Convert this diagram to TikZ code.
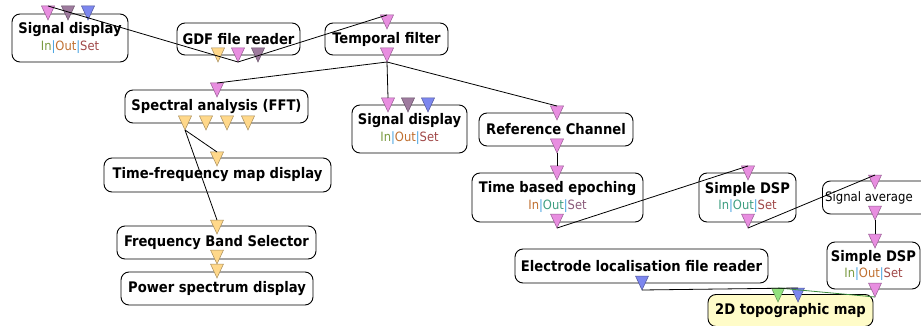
\documentclass[tikz,border=0pt]{standalone}
\usepackage{fontspec}
\setmainfont{DejaVu Sans Condensed}
\usetikzlibrary{calc}
\definecolor{pk}{HTML}{E88EE0}
\definecolor{mv}{HTML}{9E7B9E}
\definecolor{bl}{HTML}{7C86EE}
\definecolor{yl}{HTML}{FFD88A}
\definecolor{gr}{HTML}{92E27E}
\definecolor{topofill}{HTML}{FFFCC8}
\definecolor{cteal}{HTML}{3E9E80}
\definecolor{colive}{HTML}{7A9A40}
\definecolor{corange}{HTML}{C07030}
\definecolor{cbrown}{HTML}{A04848}
\definecolor{cpurple}{HTML}{8A5A7A}
\definecolor{csep}{HTML}{40A0E0}
\definecolor{wiregreen}{HTML}{3C8C3C}
\newcommand\ioA{\textcolor{colive}{In}\textcolor{csep}{|}\textcolor{corange}{Out}\textcolor{csep}{|}\textcolor{cbrown}{Set}}
\newcommand\ioB{\textcolor{corange}{In}\textcolor{csep}{|}\textcolor{cteal}{Out}\textcolor{csep}{|}\textcolor{cpurple}{Set}}
\newcommand\ioC{\textcolor{cteal}{In}\textcolor{csep}{|}\textcolor{cteal}{Out}\textcolor{csep}{|}\textcolor{cbrown}{Set}}
% name, x, border y, colour
\newcommand\porttri[4]{%
  \coordinate (#1) at (#2,#3);
  \coordinate (#1-top) at (#2,#3-7);
  \coordinate (#1-tip) at (#2,#3+7);
  \filldraw[fill=#4,draw=#4!65!black,line width=0.5pt] (#2-6.5,#3-7) -- (#2+6.5,#3-7) -- (#2,#3+7) -- cycle;}
\begin{document}
\begin{tikzpicture}[x=1pt,y=-1pt,
  box/.style={draw=black,line width=0.9pt,rounded corners=8pt,fill=white,inner sep=0pt},
  ttl/.style={font=\bfseries\fontsize{14.6}{16}\selectfont,inner sep=0pt},
  sub/.style={font=\fontsize{12.8}{14}\selectfont,inner sep=0pt},
  wire/.style={draw=black,line width=0.8pt}]
\useasboundingbox (0,0) rectangle (921,326);
\clip (0,0) rectangle (921,326);
\fill[white] (0,0) rectangle (921,326);

% boxes
\node[box,minimum width=116,minimum height=48] (sd1) at (70,38) {};
\node[ttl] (sd1t) at (70,30) {Signal display};
\node[sub] (sd1s) at (70,47) {\ioA};

\node[box,minimum width=123,minimum height=32,ttl] (gdf) at (238.5,39) {GDF file reader};
\node[box,minimum width=123,minimum height=32,ttl] (tf) at (386.5,39) {Temporal filter};
\node[box,minimum width=183,minimum height=33,ttl] (fft) at (216.5,106.5) {Spectral analysis (FFT)};

\node[box,minimum width=115,minimum height=48] (sd2) at (409.5,129) {};
\node[ttl] (sd2t) at (409.5,121) {Signal display};
\node[sub] (sd2s) at (409.5,138) {\ioA};

\node[box,minimum width=154,minimum height=33,ttl] (ref) at (556,129.5) {Reference Channel};

\node[box,minimum width=171,minimum height=49] (tbe) at (557.5,197.5) {};
\node[ttl] (tbet) at (557.5,189) {Time based epoching};
\node[sub] (tbes) at (557.5,206) {\ioB};

\node[box,minimum width=97,minimum height=49] (dsp1) at (747.5,197.5) {};
\node[ttl] (dsp1t) at (747.5,189) {Simple DSP};
\node[sub] (dsp1s) at (747.5,206) {\ioC};

\node[box,minimum width=116,minimum height=33,anchor=west] (avg) at (822,197.5) {};
\node[font=\fontsize{13}{15}\selectfont,inner sep=0pt,anchor=west] (avgt) at (825,197.5) {Signal average};

\node[box,minimum width=93,minimum height=47] (dsp2) at (873.5,265.5) {};
\node[ttl] (dsp2t) at (873.5,257) {Simple DSP};
\node[sub] (dsp2s) at (873.5,274) {\ioA};

\node[box,minimum width=253,minimum height=34,ttl] (elec) at (641.5,266) {Electrode localisation file reader};
\node[box,minimum width=165,minimum height=32,ttl,fill=topofill] (topo) at (790.5,310.5) {2D topographic map};

\node[box,minimum width=227,minimum height=34,ttl] (tfm) at (217.5,175) {Time-frequency map display};
\node[box,minimum width=199,minimum height=33,ttl] (fbs) at (216.5,242.5) {Frequency Band Selector};
\node[box,minimum width=192,minimum height=33,ttl] (pow) at (217,288.5) {Power spectrum display};

% ports
\porttri{sd1-p}{48}{13}{pk}
\porttri{sd1-m}{68}{13}{mv}
\porttri{sd1-b}{88}{13}{bl}
\porttri{gdf-y}{218}{55}{yl}
\porttri{gdf-p}{238}{55}{pk}
\porttri{gdf-m}{258}{55}{mv}
\porttri{tf-i}{387}{22}{pk}
\porttri{tf-o}{387}{55}{pk}
\porttri{fft-i}{217}{90}{pk}
\porttri{fft-o1}{185}{123}{yl}
\porttri{fft-o2}{206}{123}{yl}
\porttri{fft-o3}{227}{123}{yl}
\porttri{fft-o4}{248}{123}{yl}
\porttri{sd2-p}{388}{105}{pk}
\porttri{sd2-m}{408}{105}{mv}
\porttri{sd2-b}{428}{105}{bl}
\porttri{ref-i}{557}{113}{pk}
\porttri{ref-o}{557}{146}{pk}
\porttri{tbe-i}{557}{173}{pk}
\porttri{tbe-o}{557}{221}{pk}
\porttri{dsp1-i}{748}{173}{pk}
\porttri{dsp1-o}{748}{221}{pk}
\porttri{avg-i}{875}{182}{pk}
\porttri{avg-o}{875}{213}{pk}
\porttri{dsp2-i}{875}{241}{pk}
\porttri{dsp2-o}{875}{290}{pk}
\porttri{elec-o}{642}{283}{bl}
\porttri{topo-g}{778}{295}{gr}
\porttri{topo-b}{798}{295}{bl}
\porttri{tfm-i}{217}{159}{yl}
\porttri{fbs-i}{217}{227}{yl}
\porttri{fbs-o}{217}{257}{yl}
\porttri{pow-i}{217}{271}{yl}

% connectors
\draw[wire] (gdf-p-tip) -- (sd1-p-top);
\draw[wire] (gdf-p-tip) -- (tf-i-top);
\draw[wire] (tf-o-tip) -- (fft-i-top);
\draw[wire] (tf-o-tip) -- (sd2-p-top);
\draw[wire] (tf-o-tip) -- (ref-i-top);
\draw[wire] (fft-o1-tip) -- (tfm-i-top);
\draw[wire] (fft-o1-tip) -- (fbs-i-top);
\draw[wire] (fbs-o-tip) -- (pow-i-top);
\draw[wire] (ref-o-tip) -- (tbe-i-top);
\draw[wire] (tbe-o-tip) -- (dsp1-i-top);
\draw[wire] (dsp1-o-tip) -- (avg-i-top);
\draw[wire] (avg-o-tip) -- (dsp2-i-top);
\draw[wire,draw=wiregreen] (dsp2-o-tip) -- (topo-g-top);
\draw[wire] (elec-o-tip) -- (topo-b-top);
\end{tikzpicture}
\end{document}
